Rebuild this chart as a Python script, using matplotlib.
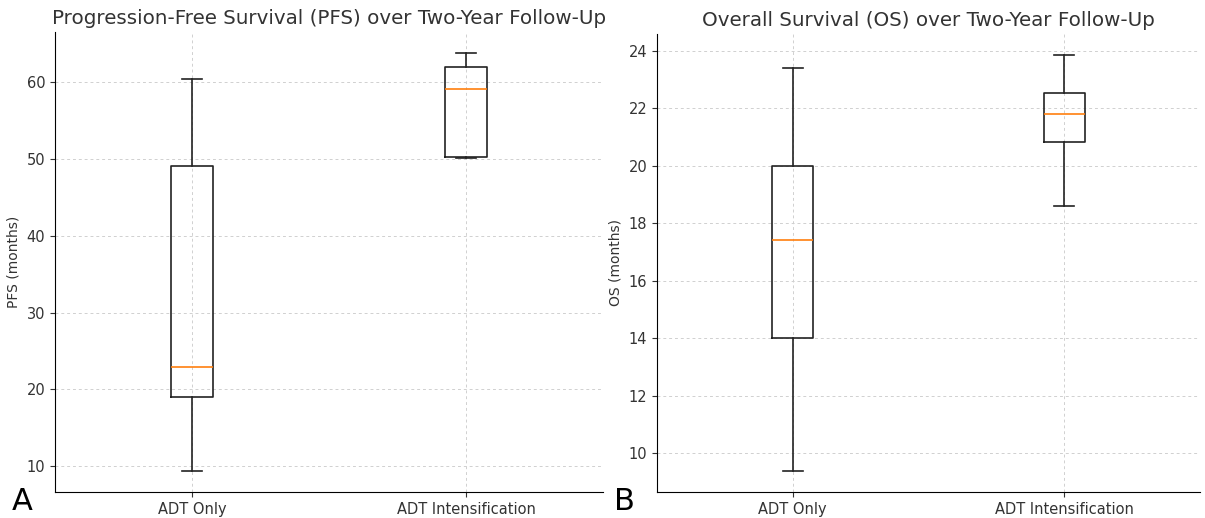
import matplotlib.pyplot as plt

# box statistics (months)
groups = ["ADT Only", "ADT Intensification"]

pfs_low = [9.35, 50.2]
pfs_q1 = [19.0, 50.3]
pfs_med = [22.95, 59.2]
pfs_q3 = [49.1, 62.0]
pfs_high = [60.4, 63.85]

os_low = [9.38, 18.6]
os_q1 = [14.0, 20.83]
os_med = [17.43, 21.8]
os_q3 = [19.97, 22.53]
os_high = [23.38, 23.85]


def make_stats(low, q1, med, q3, high):
    stats = []
    for i in range(len(groups)):
        stats.append(dict(label=groups[i], whislo=low[i], q1=q1[i], med=med[i],
                          q3=q3[i], whishi=high[i], fliers=[]))
    return stats


fig = plt.figure(figsize=(12.05, 5.18), dpi=100)
ax1 = fig.add_axes([55/1205, 26/518, 548/1205, 460/518])
ax2 = fig.add_axes([657/1205, 26/518, 543/1205, 458/518])

panels = [
    (ax1, make_stats(pfs_low, pfs_q1, pfs_med, pfs_q3, pfs_high),
     "Progression-Free Survival (PFS) over Two-Year Follow-Up", "PFS (months)"),
    (ax2, make_stats(os_low, os_q1, os_med, os_q3, os_high),
     "Overall Survival (OS) over Two-Year Follow-Up", "OS (months)"),
]

for ax, stats, title, ylabel in panels:
    ax.bxp(stats, widths=0.15,
           boxprops=dict(color="#222222", linewidth=1.2),
           whiskerprops=dict(color="#222222", linewidth=1.2),
           capprops=dict(color="#222222", linewidth=1.2),
           medianprops=dict(color="#ff7f0e", linewidth=1.2))
    ax.set_title(title, fontsize=14.3, color="#333333")
    ax.set_ylabel(ylabel, fontsize=10, color="#333333")
    ax.tick_params(labelsize=10.5, colors="#333333")
    ax.grid(True, linestyle=(0, (3, 3)), color="#d0d0d0", linewidth=0.7)
    ax.set_axisbelow(True)
    ax.spines["top"].set_visible(False)
    ax.spines["right"].set_visible(False)

fig.text(12/1205, 0.015, "A", fontsize=22)
fig.text(614/1205, 0.015, "B", fontsize=22)

fig.savefig("out.png", dpi=100)
